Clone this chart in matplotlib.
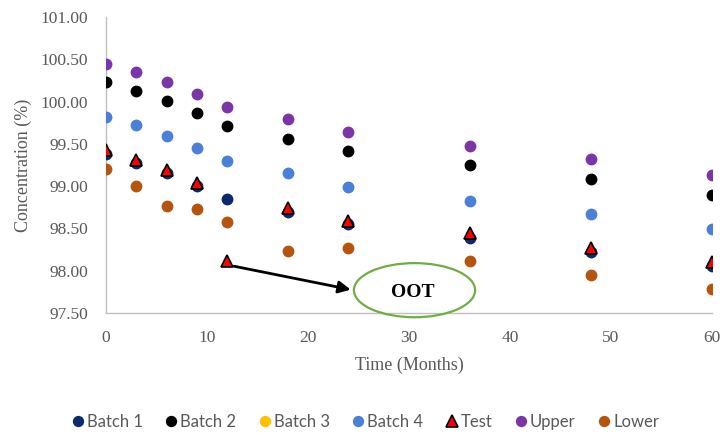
import matplotlib
matplotlib.use("Agg")
import matplotlib.pyplot as plt
from matplotlib.patches import Ellipse

# stability data
months = [0, 3, 6, 9, 12, 18, 24, 36, 48, 60]
batch1 = [99.38, 99.27, 99.15, 99.00, 98.85, 98.70, 98.55, 98.39, 98.22, 98.06]
batch2 = [100.23, 100.13, 100.01, 99.87, 99.71, 99.56, 99.41, 99.25, 99.09, 98.90]
batch3 = []  # not visible in the chart, only in the legend
batch4 = [99.82, 99.72, 99.59, 99.45, 99.30, 99.15, 98.99, 98.83, 98.67, 98.49]
test = [99.43, 99.31, 99.19, 99.04, 98.12, 98.74, 98.59, 98.45, 98.27, 98.10]
upper = [100.45, 100.35, 100.23, 100.09, 99.94, 99.79, 99.64, 99.47, 99.32, 99.13]
lower = [99.20, 99.00, 98.77, 98.73, 98.58, 98.23, 98.27, 98.12, 97.95, 97.78]

yticks = [97.5, 98.0, 98.5, 99.0, 99.5, 100.0, 100.5, 101.0]
xticks = [0, 10, 20, 30, 40, 50, 60]

gray = "#595959"
serif = ["Liberation Serif", "DejaVu Serif"]

fig = plt.figure(figsize=(7.24, 4.33), dpi=100)
ax = fig.add_axes([0.1464, 0.2771, 0.837, 0.6836])

ms = 7.5
ax.plot(months, batch1, "o", color="#0B2A6E", ms=ms, label="Batch 1", zorder=3)
ax.plot(months, batch2, "o", color="black", ms=ms, label="Batch 2", zorder=3)
ax.plot(batch3, batch3, "o", color="#FFC000", ms=ms, label="Batch 3", zorder=3)
ax.plot(months, batch4, "o", color="#4A80D8", ms=ms, label="Batch 4", zorder=3)
ax.plot(months, test, "^", color="#FF0000", mec="black", mew=1.2, ms=8.5,
        label="Test", zorder=4)
ax.plot(months, upper, "o", color="#7A35A8", ms=ms, label="Upper", zorder=3)
ax.plot(months, lower, "o", color="#B5540F", ms=ms, label="Lower", zorder=3)

ax.set_xlim(0, 60)
ax.set_ylim(97.5, 101.0)
ax.set_xticks(xticks)
ax.set_yticks(yticks)
ax.set_yticklabels([f"{v:.2f}" for v in yticks])
ax.tick_params(length=0, labelcolor=gray, labelsize=12.5)
ax.tick_params(axis="y", pad=13)
ax.tick_params(axis="x", pad=12)
for lab in ax.get_xticklabels() + ax.get_yticklabels():
    lab.set_family(serif)

for s in ["top", "right"]:
    ax.spines[s].set_visible(False)
for s in ["left", "bottom"]:
    ax.spines[s].set_color("#C0C0C0")
    ax.spines[s].set_linewidth(1.0)

ax.set_xlabel("Time (Months)", family=serif, fontsize=13, color=gray, labelpad=8)
ax.set_ylabel("Concentration (%)", family=serif, fontsize=13, color=gray, labelpad=6)

# OOT call-out
ax.annotate("", xy=(24.5, 97.77), xytext=(12.4, 98.06),
            arrowprops=dict(arrowstyle="-|>", color="black", lw=2, mutation_scale=18),
            zorder=5)
ax.add_patch(Ellipse((30.55, 97.77), 12.0, 0.64, fill=False, edgecolor="#70AD47",
                     lw=1.6, clip_on=False, zorder=5))
ax.text(30.4, 97.74, "OOT", family=serif, fontsize=14, fontweight="bold",
        ha="center", va="center", zorder=6)

fig.legend(loc="center", bbox_to_anchor=(0.503, 0.026), ncol=7, frameon=False,
           prop={"family": "Lato", "size": 12}, labelcolor=gray,
           handletextpad=0.05, columnspacing=1.2, handlelength=1.0, markerscale=0.95)

fig.savefig("out.png", dpi=100)
